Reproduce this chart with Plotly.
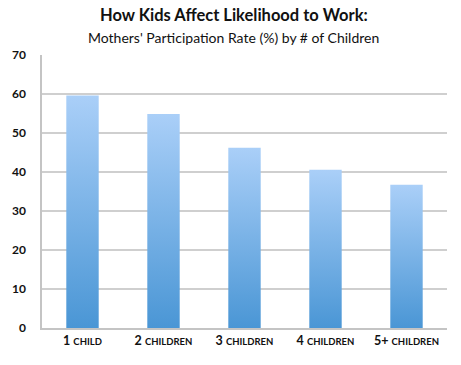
import plotly.graph_objects as go

categories = ["1", "2", "3", "4", "5+"]
category_words = ["CHILD", "CHILDREN", "CHILDREN", "CHILDREN", "CHILDREN"]
rates = [59.6, 54.9, 46.2, 40.6, 36.7]
y_ticks = [0, 10, 20, 30, 40, 50, 60, 70]
title_text = "How Kids Affect Likelihood to Work:"
subtitle_text = "Mothers' Participation Rate (%) by # of Children"

FONT = "Lato, 'Open Sans', sans-serif"
half_w = 0.2

fig = go.Figure()
for i, v in enumerate(rates):
    x0, x1 = i - half_w, i + half_w
    fig.add_trace(go.Scatter(
        x=[x0, x1, x1, x0, x0],
        y=[0, 0, v, v, 0],
        mode="lines",
        line=dict(width=0, color="rgba(0,0,0,0)"),
        fill="toself",
        fillgradient=dict(
            type="vertical",
            colorscale=[[0, "#4a96d5"], [1, "#aacff8"]],
        ),
        hoverinfo="skip",
        showlegend=False,
    ))

ticktext = [f"<b>{c} <span style='font-size:9.5px'>{w}</span></b>"
            for c, w in zip(categories, category_words)]

fig.add_annotation(
    text=f"<b>{title_text}</b>", xref="paper", yref="paper",
    x=0.474, y=1.1465, xanchor="center", yanchor="middle", showarrow=False,
    font=dict(size=16.5, family=FONT, color="#111111"),
)
fig.add_annotation(
    text=subtitle_text, xref="paper", yref="paper",
    x=0.474, y=1.0623, xanchor="center", yanchor="middle", showarrow=False,
    font=dict(size=14, family=FONT, color="#111111"),
)

fig.update_layout(
    width=461, height=365,
    margin=dict(l=37, r=14, t=55, b=37),
    paper_bgcolor="white", plot_bgcolor="white",
    font=dict(family=FONT, color="#111111"),
    xaxis=dict(
        range=[-0.5, 4.5],
        tickmode="array", tickvals=list(range(len(categories))), ticktext=ticktext,
        showgrid=False, zeroline=False,
        showline=True, linecolor="#c4c4c4", linewidth=1.5,
        ticks="", tickfont=dict(size=12.5, family=FONT, color="#111111"),
        fixedrange=True,
    ),
    yaxis=dict(
        range=[0, 70],
        tickmode="array", tickvals=y_ticks,
        ticktext=[f"<b>{t}</b>" for t in y_ticks],
        showgrid=True, gridcolor="#cfcfcf", gridwidth=1.5,
        zeroline=False,
        showline=True, linecolor="#c4c4c4", linewidth=1.5,
        ticks="", ticklabelstandoff=12,
        tickfont=dict(size=12, family=FONT, color="#111111"),
        fixedrange=True,
    ),
)

fig.write_html(
    "out.html",
    config={"displayModeBar": False},
    post_script="document.body.style.margin='0';document.body.style.overflow='hidden';",
)
